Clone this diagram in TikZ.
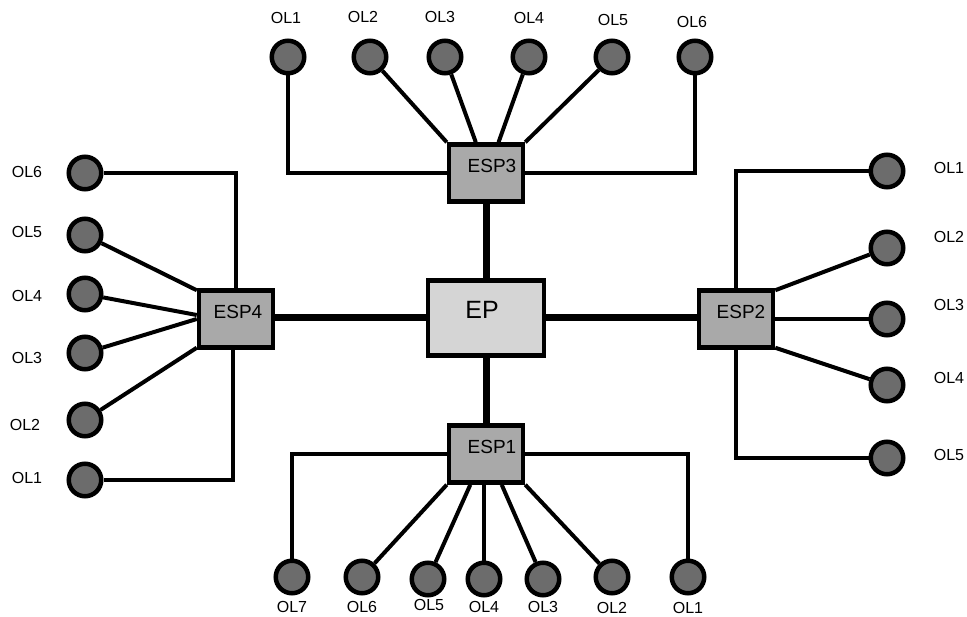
\documentclass[tikz,border=0pt]{standalone}
\usepackage{fontspec}
\setmainfont{Liberation Sans}
\usetikzlibrary{calc,backgrounds}
\definecolor{espgray}{HTML}{A9A9A9}
\definecolor{epgray}{HTML}{D5D5D5}
\definecolor{olgray}{HTML}{6C6C6C}
\begin{document}
\begin{tikzpicture}[x=1pt,y=-1pt,
  olc/.style={circle,draw=black,fill=olgray,line width=4.5pt,minimum size=32.5pt,inner sep=0pt},
  espbox/.style={rectangle,draw=black,fill=espgray,line width=4.5pt,minimum width=74pt,minimum height=57pt,inner sep=0pt,font=\fontsize{19}{19}\selectfont,text height=13.6pt,text depth=15pt},
  epbox/.style={rectangle,draw=black,fill=epgray,line width=4.5pt,minimum width=116pt,minimum height=75pt,inner sep=0pt,font=\fontsize{25}{25}\selectfont,text height=17.9pt,text depth=16pt},
  lab/.style={font=\fontsize{16}{16}\selectfont,inner sep=0pt},
  thinl/.style={line width=4pt,line join=miter},
  thickl/.style={line width=7pt}]
\useasboundingbox (0,0) rectangle (967,617);
% boxes
\node[epbox] (ep) at (486,318) {EP\hspace*{8pt}};
\node[espbox] (esp3) at (486,173) {\hspace*{12pt}ESP3};
\node[espbox] (esp1) at (486,454) {\hspace*{12pt}ESP1};
\node[espbox] (esp2) at (736,319) {\hspace*{10pt}ESP2};
\node[espbox] (esp4) at (236,319) {\hspace*{4pt}ESP4};
% top circles
\node[olc] (t1) at (288,57) {};
\node[olc] (t2) at (370,57) {};
\node[olc] (t3) at (445,57) {};
\node[olc] (t4) at (529,57) {};
\node[olc] (t5) at (612,57) {};
\node[olc] (t6) at (695,57) {};
\node[lab] (tl1) at (286,18) {OL1};
\node[lab] (tl2) at (363,17) {OL2};
\node[lab] (tl3) at (440,17) {OL3};
\node[lab] (tl4) at (529,18) {OL4};
\node[lab] (tl5) at (613,20) {OL5};
\node[lab] (tl6) at (692,22) {OL6};
% left circles
\node[olc] (l6) at (85,173) {};
\node[olc] (l5) at (85,235) {};
\node[olc] (l4) at (85,294) {};
\node[olc] (l3) at (85,353) {};
\node[olc] (l2) at (85,420) {};
\node[olc] (l1) at (85,480) {};
\node[lab] (ll6) at (27,172) {OL6};
\node[lab] (ll5) at (27,232) {OL5};
\node[lab] (ll4) at (27,296) {OL4};
\node[lab] (ll3) at (27,358) {OL3};
\node[lab] (ll2) at (25,425) {OL2};
\node[lab] (ll1) at (27,478) {OL1};
% right circles
\node[olc] (r1) at (887,171) {};
\node[olc] (r2) at (887,248) {};
\node[olc] (r3) at (887,319) {};
\node[olc] (r4) at (887,385) {};
\node[olc] (r5) at (887,458) {};
\node[lab] (rl1) at (949,168) {OL1};
\node[lab] (rl2) at (949,237) {OL2};
\node[lab] (rl3) at (949,305) {OL3};
\node[lab] (rl4) at (949,378) {OL4};
\node[lab] (rl5) at (949,455) {OL5};
% bottom circles
\node[olc] (b7) at (292,577) {};
\node[olc] (b6) at (362,577) {};
\node[olc] (b5) at (428,579) {};
\node[olc] (b4) at (484,579) {};
\node[olc] (b3) at (543,579) {};
\node[olc] (b2) at (612,577) {};
\node[olc] (b1) at (688,577) {};
\node[lab] (bl7) at (292,607) {OL7};
\node[lab] (bl6) at (362,607) {OL6};
\node[lab] (bl5) at (429,605) {OL5};
\node[lab] (bl4) at (484,607) {OL4};
\node[lab] (bl3) at (543,607) {OL3};
\node[lab] (bl2) at (612,608) {OL2};
\node[lab] (bl1) at (688,608) {OL1};
\begin{scope}[on background layer]
% thick links
\draw[thickl] (ep) -- (esp3);
\draw[thickl] (ep) -- (esp1);
\draw[thickl] (ep.east) -- (esp2.west |- ep.east);
\draw[thickl] (ep.west) -- (esp4.east |- ep.west);
% top
\draw[thinl] (t1) |- (esp3.west);
\draw[thinl] (t6) |- (esp3.east);
\draw[thinl] (t2) -- (esp3.north west);
\draw[thinl] (t3) -- ($(esp3.north west)!0.37!(esp3.north east)$);
\draw[thinl] (t4) -- ($(esp3.north west)!0.66!(esp3.north east)$);
\draw[thinl] (t5) -- (esp3.north east);
% left
\draw[thinl] (l6) -| (esp4.north);
\draw[thinl] (l1) -| ($(esp4.south)+(-3,0)$);
\draw[thinl] (l5) -- ($(esp4.north west)+(0,2)$);
\draw[thinl] (l4) -- ($(esp4.west)+(0,-4)$);
\draw[thinl] (l3) -- ($(esp4.west)+(0,0)$);
\draw[thinl] (l2) -- ($(esp4.south west)+(0,-2)$);
% right
\draw[thinl] (r1) -| (esp2.north);
\draw[thinl] (r5) -| (esp2.south);
\draw[thinl] (r2) -- ($(esp2.north east)+(0,2)$);
\draw[thinl] (r3) -- (esp2.east);
\draw[thinl] (r4) -- ($(esp2.south east)+(0,-2)$);
% bottom
\draw[thinl] (b7) |- (esp1.west);
\draw[thinl] (b1) |- (esp1.east);
\draw[thinl] (b6) -- (esp1.south west);
\draw[thinl] (b5) -- ($(esp1.south west)!0.30!(esp1.south east)$);
\draw[thinl] (b4) -- (b4 |- esp1.south);
\draw[thinl] (b3) -- ($(esp1.south west)!0.70!(esp1.south east)$);
\draw[thinl] (b2) -- (esp1.south east);
\end{scope}
\end{tikzpicture}
\end{document}
